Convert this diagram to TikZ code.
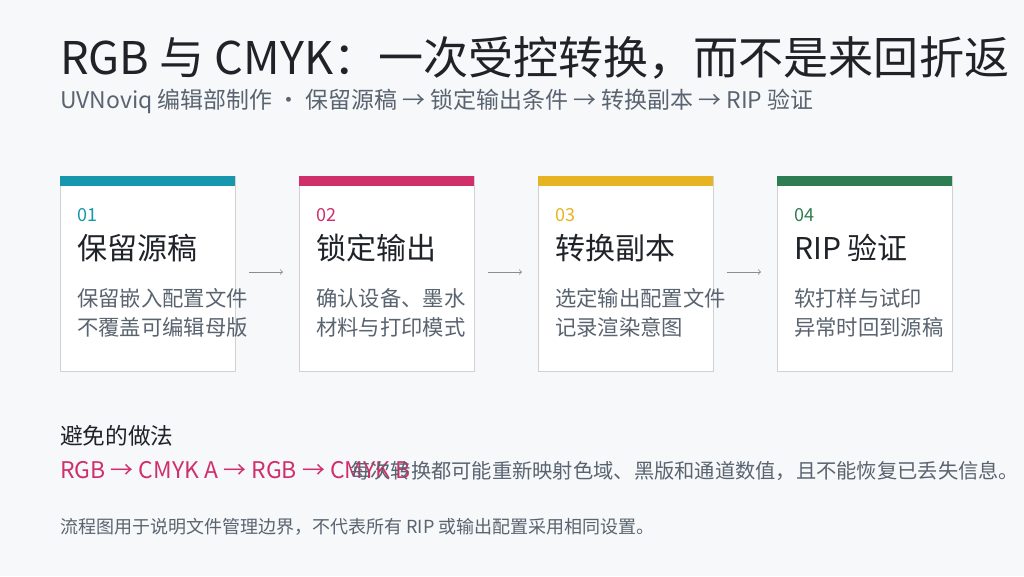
\documentclass[tikz,border=0pt]{standalone}
\usepackage{fontspec}
\setmainfont{Noto Sans CJK SC}
\usetikzlibrary{positioning}
\definecolor{bgcol}{HTML}{F6F8FA}
\definecolor{inkcol}{HTML}{1F2328}
\definecolor{subcol}{HTML}{5A6470}
\definecolor{tealcol}{HTML}{1797AE}
\definecolor{rosecol}{HTML}{D02F6A}
\definecolor{goldcol}{HTML}{E6B422}
\definecolor{greencol}{HTML}{2E7D52}
\tikzset{
	card/.style={draw=black!18, fill=white, line width=0.6pt},
	num/.style={anchor=base west, font=\fontsize{13.5}{16}\selectfont, inner sep=0},
	head/.style={anchor=base west, font=\fontsize{22.5}{27}\selectfont, text=inkcol, inner sep=0},
	body/.style={anchor=base west, font=\fontsize{16}{22}\selectfont, text=subcol, inner sep=0, align=left},
	flowarrow/.style={->, >=to, black!45, line width=0.6pt}
}
\begin{document}
\begin{tikzpicture}[x=0.75pt, y=-0.75pt]
	\fill[bgcol] (0,0) rectangle (1024,576);
	\useasboundingbox (0,0) rectangle (1024,576);
	% Header
	\node[anchor=base west, inner sep=0, text=inkcol, font=\fontsize{33.8}{38}\selectfont] (title) at (60,74) {RGB 与 CMYK：一次受控转换，而不是来回折返};
	\node[anchor=base west, inner sep=0, text=subcol, font=\fontsize{17.2}{20}\selectfont] (sub) at (60,108) {UVNoviq 编辑部制作 · 保留源稿 → 锁定输出条件 → 转换副本 → RIP 验证};
	% Cards
	\foreach \i/\x/\c/\n/\h/\a/\b in {
		1/60/tealcol/01/保留源稿/保留嵌入配置文件/不覆盖可编辑母版,
		2/299/rosecol/02/锁定输出/确认设备、墨水/材料与打印模式,
		3/538/goldcol/03/转换副本/选定输出配置文件/记录渲染意图,
		4/777/greencol/04/RIP 验证/软打样与试印/异常时回到源稿}{
		\draw[card] (\x,176) rectangle ++(175,195);
		\fill[\c] (\x,176) rectangle ++(175,10);
		\node[num, text=\c] (n\i) at (\x+17,221) {\n};
		\node[head] (h\i) at (\x+17,259) {\h};
		\node[body] (a\i) at (\x+17,306) {\a};
		\node[body] (b\i) at (\x+17,335) {\b};
		\coordinate (l\i) at (\x-50,272);
		\coordinate (r\i) at (\x-16,272);
	}
	% Arrows
	\foreach \i in {2,3,4}
		\draw[flowarrow] (l\i) -- (r\i);
	% Avoid
	\node[anchor=base west, inner sep=0, text=inkcol, font=\fontsize{17}{20}\selectfont] (avoid) at (60,444) {避免的做法};
	\node[anchor=base west, inner sep=0, text=rosecol, font=\fontsize{17.2}{20}\selectfont] (bad) at (60,478) {RGB → CMYK A → RGB → CMYK B};
	\node[anchor=base west, inner sep=0, text=subcol, font=\fontsize{15.2}{18}\selectfont] (why) at (350,478) {每次转换都可能重新映射色域、黑版和通道数值，且不能恢复已丢失信息。};
	\node[anchor=base west, inner sep=0, text=subcol, font=\fontsize{13.5}{16}\selectfont] (note) at (60,533) {流程图用于说明文件管理边界，不代表所有 RIP 或输出配置采用相同设置。};
\end{tikzpicture}
\end{document}
